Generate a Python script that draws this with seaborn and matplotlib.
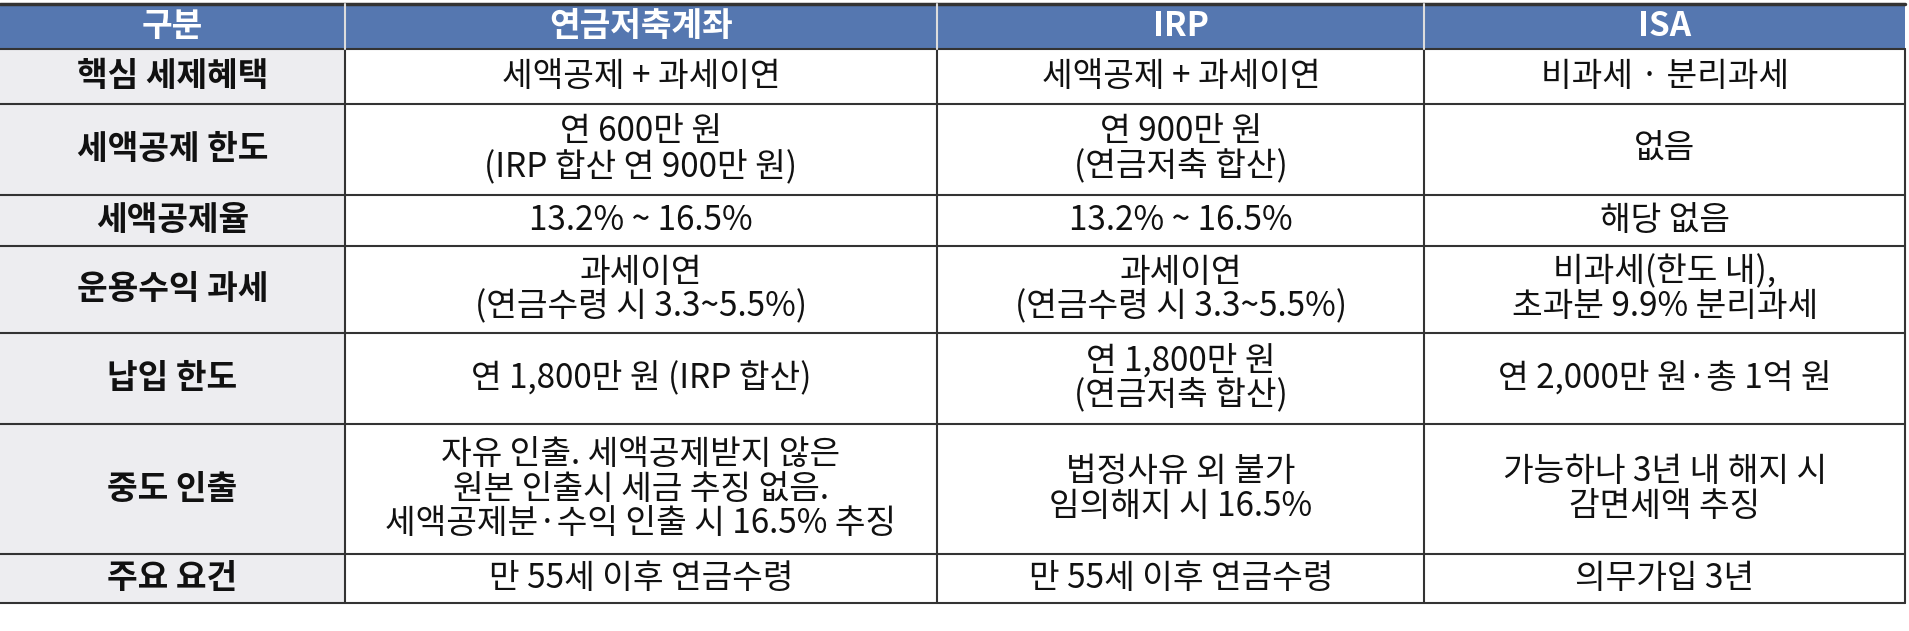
import matplotlib.pyplot as plt
import seaborn as sns
from matplotlib.patches import Rectangle

sns.set_theme(style='white')
plt.rcParams['font.family'] = ['Noto Sans CJK KR', 'DejaVu Sans']

headers = ['구분', '연금저축계좌', 'IRP', 'ISA']
row_labels = ['핵심 세제혜택', '세액공제 한도', '세액공제율', '운용수익 과세', '납입 한도', '중도 인출', '주요 요건']
col_pension = ['세액공제 + 과세이연', '연 600만 원\n(IRP 합산 연 900만 원)', '13.2% ~ 16.5%',
               '과세이연\n(연금수령 시 3.3~5.5%)', '연 1,800만 원 (IRP 합산)',
               '자유 인출. 세액공제받지 않은\n원본 인출시 세금 추징 없음.\n세액공제분·수익 인출 시 16.5% 추징',
               '만 55세 이후 연금수령']
col_irp = ['세액공제 + 과세이연', '연 900만 원\n(연금저축 합산)', '13.2% ~ 16.5%',
           '과세이연\n(연금수령 시 3.3~5.5%)', '연 1,800만 원\n(연금저축 합산)',
           '법정사유 외 불가\n임의해지 시 16.5%', '만 55세 이후 연금수령']
col_isa = ['비과세 · 분리과세', '없음', '해당 없음', '비과세(한도 내),\n초과분 9.9% 분리과세',
           '연 2,000만 원·총 1억 원', '가능하나 3년 내 해지 시\n감면세액 추징', '의무가입 3년']

# layout (fractions of figure, top-down)
col_edges = [0.0, 283 / 1568, 770 / 1568, 1170 / 1568, 1565 / 1568]
row_edges = [3, 40, 85, 160, 202, 273, 348, 455, 495]
row_edges = [1 - y / 518 for y in row_edges]

fig = plt.figure(figsize=(19.09, 6.31), dpi=100)
ax = fig.add_axes([0, 0, 1, 1])
ax.set_xlim(0, 1)
ax.set_ylim(0, 1)
ax.axis('off')

header_color = '#5577b0'
label_bg = '#ededf0'
fs = 24

columns = [row_labels, col_pension, col_irp, col_isa]
for c in range(4):
    x0, x1 = col_edges[c], col_edges[c + 1]
    # header
    y0, y1 = row_edges[1], row_edges[0]
    ax.add_patch(Rectangle((x0, y0), x1 - x0, y1 - y0, facecolor=header_color, edgecolor='none'))
    ax.text((x0 + x1) / 2, (y0 + y1) / 2, headers[c], ha='center', va='center',
            color='white', fontsize=fs, fontweight='bold')
    for r, txt in enumerate(columns[c]):
        y1, y0 = row_edges[r + 1], row_edges[r + 2]
        fc = label_bg if c == 0 else 'white'
        ax.add_patch(Rectangle((x0, y0), x1 - x0, y1 - y0, facecolor=fc, edgecolor='none'))
        ax.text((x0 + x1) / 2, (y0 + y1) / 2, txt, ha='center', va='center', color='#111111',
                fontsize=fs, fontweight='black' if c == 0 else 'normal', linespacing=0.98)

# grid lines
for y in row_edges:
    ax.plot([0, col_edges[-1]], [y, y], color='#333333', lw=1.5 if y != row_edges[0] else 2.5)
for i, x in enumerate(col_edges[1:]):
    ax.plot([x, x], [row_edges[-1], row_edges[1]], color='#333333', lw=1.5)
    if i < 3:
        ax.plot([x, x], [row_edges[1], row_edges[0]], color='#dddddd', lw=1.5)

fig.savefig('out.png', dpi=100)
